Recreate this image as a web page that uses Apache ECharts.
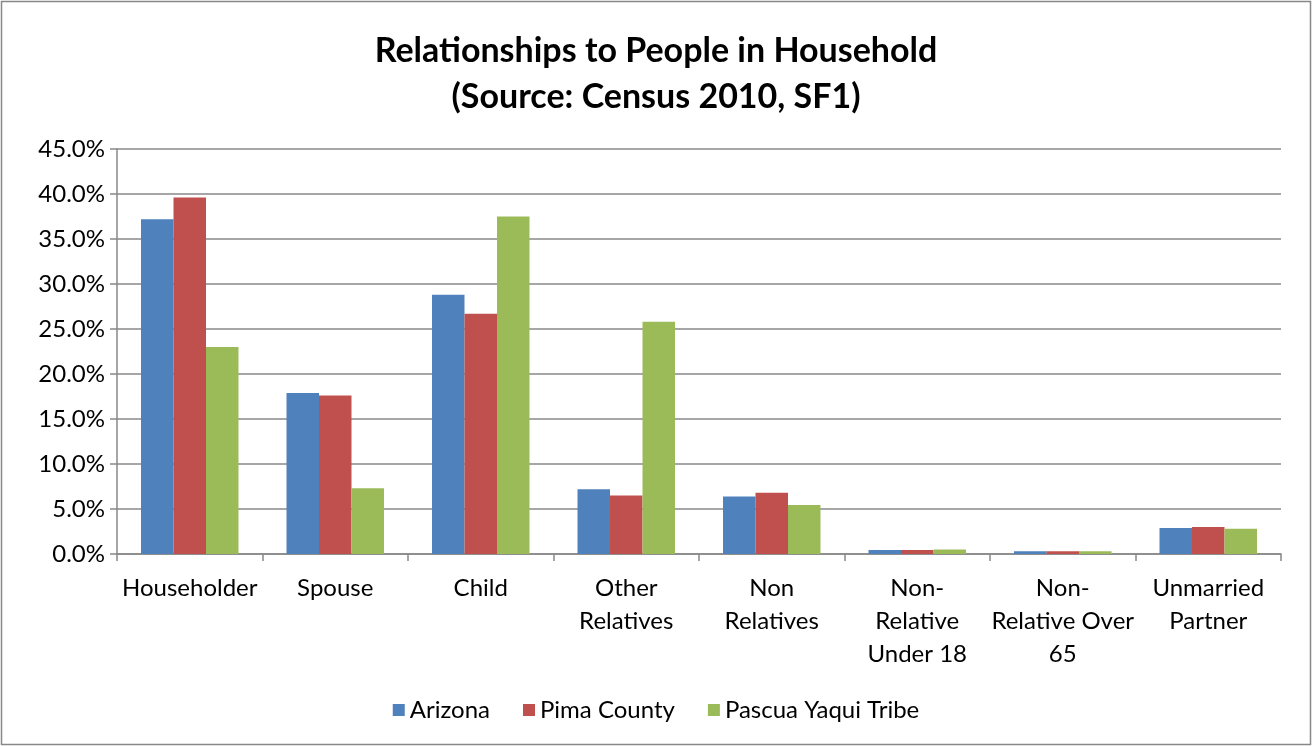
<!DOCTYPE html>
<html><head><meta charset="utf-8">
<script src="https://cdn.jsdelivr.net/npm/echarts@6/dist/echarts.min.js"></script>
<style>html,body{margin:0;padding:0;background:#fff}#c{width:1312px;height:746px}</style>
</head><body><div id="c"></div>
<script>
const categories = ['Householder','Spouse','Child','Other\nRelatives','Non\nRelatives','Non-\nRelative\nUnder 18','Non-\nRelative Over\n65','Unmarried\nPartner'];
const arizona = [37.2, 17.9, 28.8, 7.2, 6.4, 0.45, 0.3, 2.9];
const pima = [39.6, 17.6, 26.7, 6.5, 6.8, 0.45, 0.3, 3.0];
const pascua = [23.0, 7.3, 37.5, 25.8, 5.45, 0.5, 0.3, 2.8];
const seriesNames = ['Arizona','Pima County','Pascua Yaqui Tribe'];
const colors = ['#4F81BD','#C0504D','#9BBB59'];
const font = 'Lato, "Open Sans", sans-serif';
const chart = echarts.init(document.getElementById('c'));
chart.setOption({
  animation:false,
  backgroundColor:'#fff',
  graphic:[{type:'rect',shape:{x:1.5,y:1.5,width:1309,height:743},style:{fill:'none',stroke:'#888',lineWidth:1.5}}],
  title:{text:'Relationships to People in Household\n(Source: Census 2010, SF1)',left:'center',top:23,
    textStyle:{fontFamily:font,fontWeight:'bold',fontSize:34,lineHeight:46,color:'#000'}},
  legend:{bottom:19,left:'center',itemWidth:12,itemHeight:12,itemGap:33,icon:'rect',
    textStyle:{fontFamily:font,fontSize:24,color:'#000'},data:seriesNames},
  grid:{left:117,right:31,top:149,bottom:192,containLabel:false},
  xAxis:{type:'category',data:categories,
    axisLine:{lineStyle:{color:'#888',width:1.5}},
    axisTick:{show:true,length:7,lineStyle:{color:'#888',width:1.5}},
    axisLabel:{fontFamily:font,fontSize:24,color:'#000',lineHeight:33,margin:18,interval:0}},
  yAxis:{type:'value',min:0,max:45,interval:5,
    axisLine:{show:true,lineStyle:{color:'#888',width:1.5}},
    axisTick:{show:true,length:7,lineStyle:{color:'#888',width:1.5}},
    splitLine:{lineStyle:{color:'#888',width:1.5}},
    axisLabel:{fontFamily:font,fontSize:24,color:'#000',margin:12,formatter:v=>v.toFixed(1)+'%'}},
  series:[arizona,pima,pascua].map((d,i)=>({name:seriesNames[i],type:'bar',data:d,
    barGap:'0%',barCategoryGap:'33%',itemStyle:{color:colors[i]}}))
});
</script></body></html>
